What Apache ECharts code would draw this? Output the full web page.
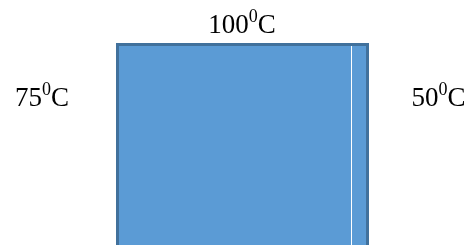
<!DOCTYPE html>
<html>
<head>
<meta charset="utf-8">
<script src="https://cdn.jsdelivr.net/npm/echarts@6/dist/echarts.min.js"></script>
<style>html,body{margin:0;padding:0;background:#fff;}#c{width:468px;height:245px;}</style>
</head>
<body>
<div id="c"></div>
<script>
// plate extent in data units (runs past the lower edge of the picture) and the thin divider near the right edge
const plateX = [0, 1];
const plateY = [-0.1, 1];
const dividerX = [0.936];
// boundary temperatures: top, left, right
const tempLabels = ['100', '75', '50'];
const degreeMark = '0';
const unitMark = 'C';

const chart = echarts.init(document.getElementById('c'), null, {renderer: 'canvas'});

const rich = {
  n: {fontFamily: 'Liberation Serif', fontSize: 27, color: '#000', lineHeight: 36},
  s: {fontFamily: 'Liberation Serif', fontSize: 18, color: '#000', lineHeight: 18, verticalAlign: 'top'}
};
function label(t) { return '{n|' + t + '}{s|' + degreeMark + '}{n|' + unitMark + '}'; }

const labelPos = [[242, 26, 'center'], [42, 99, 'center'], [438.5, 99, 'center']];

chart.setOption({
  animation: false,
  grid: {left: 117.5, right: 100.5, top: 44.5, bottom: 0},
  xAxis: {type: 'value', min: 0, max: 1, show: false},
  yAxis: {type: 'value', min: 0, max: 1, show: false},
  series: [{
    type: 'custom',
    clip: false,
    data: [[plateX[0], plateY[0], plateX[1], plateY[1]]],
    renderItem: function (params, api) {
      const p0 = api.coord([api.value(0), api.value(3)]);
      const p1 = api.coord([api.value(2), api.value(1)]);
      const d0 = api.coord([dividerX[0], api.value(3)]);
      const d1 = api.coord([dividerX[0], api.value(1)]);
      const shape = {x: p0[0], y: p0[1], width: p1[0] - p0[0], height: p1[1] - p0[1]};
      return {
        type: 'group',
        children: [
          {type: 'rect', shape: shape, style: {fill: '#5B9BD5'}},
          {type: 'line', shape: {x1: d0[0], y1: d0[1], x2: d1[0], y2: d1[1]}, style: {stroke: '#ffffff', lineWidth: 1}},
          {type: 'rect', shape: shape, style: {fill: 'none', stroke: '#41719C', lineWidth: 3}}
        ]
      };
    }
  }],
  graphic: tempLabels.map(function (t, i) {
    return {
      type: 'text',
      x: labelPos[i][0],
      y: labelPos[i][1],
      style: {text: label(t), rich: rich, align: labelPos[i][2], verticalAlign: 'middle'}
    };
  })
});
</script>
</body>
</html>
